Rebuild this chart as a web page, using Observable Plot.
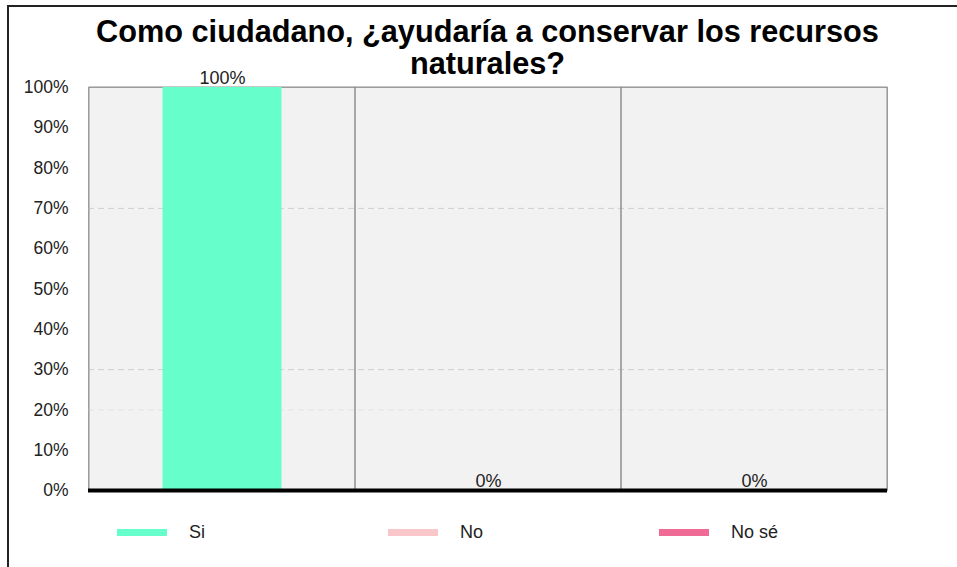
<!DOCTYPE html>
<html>
<head>
<meta charset="utf-8">
<script src="https://cdn.jsdelivr.net/npm/d3@7"></script>
<script src="https://cdn.jsdelivr.net/npm/@observablehq/plot@0.6"></script>
<style>
  html, body { margin: 0; padding: 0; background: #fff; }
  body { font-family: "Liberation Sans", Arial, Helvetica, sans-serif; color: #222; }
  #page { position: relative; width: 957px; height: 567px; overflow: hidden; }
  #border { position: absolute; left: 7px; top: 5px; width: 960px; height: 570px;
            border-left: 2px solid #222; border-top: 2px solid #222; box-sizing: border-box; }
  #title { position: absolute; left: 88px; width: 799px; top: 16px; margin: 0;
           font-weight: bold; font-size: 30.7px; line-height: 32px; color: #000; }
  #title span { display: table; margin: 0 auto; }
  #chart { position: absolute; left: 0; top: 60px; }
  #legend { position: absolute; left: 0; top: 519px; width: 957px; height: 26px; }
  .item { position: absolute; top: 0; height: 26px; display: flex; align-items: center; font-size: 18px; color: #222; }
  .swatch { width: 50px; height: 7px; margin-right: 22px; }
</style>
</head>
<body>
<div id="page">
  <div id="border"></div>
  <div id="title"><span>Como ciudadano, ¿ayudaría a conservar los recursos</span><span>naturales?</span></div>
  <div id="chart"></div>
  <div id="legend"></div>
</div>
<script>
// ---- data ----
const categories = ["Si", "No", "No sé"];
const values = [100, 0, 0];
const colors = ["#66ffcc", "#f9c7c9", "#f06a96"];
const yTicks = [0, 10, 20, 30, 40, 50, 60, 70, 80, 90, 100];
const gridDashed = [70, 30];
const gridFaint = [20];

const data = categories.map((c, i) => ({category: c, value: values[i]}));

const chart = Plot.plot({
  width: 957,
  height: 507,
  marginLeft: 88,
  marginRight: 70,
  marginTop: 27,
  marginBottom: 77,
  style: {
    fontSize: "17.5px",
    fontFamily: "'Liberation Sans', Arial, Helvetica, sans-serif",
    color: "#222",
    background: "transparent",
    overflow: "visible"
  },
  x: {domain: categories, padding: 0, axis: null},
  y: {domain: [0, 100], ticks: yTicks, tickFormat: d => d + "%", tickSize: 0, tickPadding: 20, label: null},
  color: {domain: categories, range: colors},
  marks: [
    Plot.frame({fill: "#f2f2f2", stroke: "#a8a8a8"}),
    Plot.ruleY(gridFaint, {stroke: "#e3e3e3", strokeDasharray: "6,4"}),
    Plot.ruleY(gridDashed, {stroke: "#cfcfcf", strokeDasharray: "6,4"}),
    Plot.barY(categories, {x: d => d, y1: 0, y2: 100, fill: "none", stroke: "#8f8f8f"}),
    Plot.barY(data, {x: "category", y: "value", fill: "category", insetLeft: 73.5, insetRight: 73.5}),
    Plot.ruleY([0], {stroke: "#000", strokeWidth: 4}),
    Plot.text(data, {x: "category", y: "value", text: d => d.value + "%", dy: -9, fontSize: 18, fill: "#222"})
  ]
});
document.getElementById("chart").appendChild(chart);

// ---- legend ----
const legend = document.getElementById("legend");
categories.forEach((c, i) => {
  const item = document.createElement("div");
  item.className = "item";
  item.style.left = (117 + 271 * i) + "px";
  const sw = document.createElement("span");
  sw.className = "swatch";
  sw.style.background = colors[i];
  const lab = document.createElement("span");
  lab.textContent = c;
  item.appendChild(sw);
  item.appendChild(lab);
  legend.appendChild(item);
});
</script>
</body>
</html>
